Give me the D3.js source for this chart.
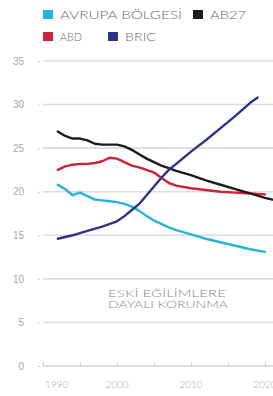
<!DOCTYPE html>
<html><head><meta charset="utf-8">
<script src="https://cdn.jsdelivr.net/npm/d3@7"></script>
<style>
body{margin:0;background:#fff;}
svg{display:block;font-family:Lato,"Open Sans",sans-serif;}
</style></head>
<body><div id="chart"></div>
<script>
const seriesNames = ["AVRUPA BÖLGESİ","AB27","ABD","BRIC"];
const seriesColors = ["#27b4d8","#1c1c1c","#cf2239","#2c3489"];
const yTicks = [0,5,10,15,20,25,30,35];
const xTicks = [1990,1995,2000,2005,2010,2015,2020,2025];
const xLabels = [1990,2000,2010,2020];
const annotation = ["ESKİ EĞİLİMLERE","DAYALI KORUNMA"];

const avrupaYears = [1992,1993,1994,1995,1996,1997,1998,1999,2000,2001,2002,2003,2004,2005,2006,2007,2008,2010,2012,2014,2016,2018,2020];
const avrupaValues = [20.8,20.3,19.6,19.9,19.5,19.1,19.0,18.9,18.8,18.6,18.3,17.8,17.2,16.7,16.3,15.9,15.6,15.1,14.6,14.2,13.8,13.4,13.1];
const ab27Years = [1992,1993,1994,1995,1996,1997,1998,1999,2000,2001,2002,2003,2004,2005,2006,2007,2008,2010,2012,2014,2016,2018,2020,2021];
const ab27Values = [26.9,26.4,26.1,26.1,25.9,25.5,25.4,25.4,25.4,25.2,24.8,24.3,23.8,23.4,23.0,22.7,22.4,21.9,21.3,20.8,20.3,19.8,19.3,19.1];
const abdYears = [1992,1993,1994,1995,1996,1997,1998,1999,2000,2001,2002,2003,2004,2005,2006,2007,2008,2010,2012,2014,2016,2018,2020];
const abdValues = [22.5,22.9,23.1,23.2,23.2,23.3,23.5,23.9,23.8,23.4,23.0,22.8,22.5,22.2,21.6,21.0,20.7,20.4,20.2,20.0,19.9,19.8,19.7];
const bricYears = [1992,1994,1996,1998,2000,2001,2002,2003,2004,2005,2006,2007,2008,2010,2012,2014,2016,2018,2019];
const bricValues = [14.6,15.0,15.5,16.0,16.6,17.2,17.9,18.6,19.6,20.6,21.6,22.5,23.2,24.6,25.9,27.3,28.7,30.2,30.8];

const W = 273, H = 396;
const svg = d3.select("#chart").append("svg").attr("width",W).attr("height",H);

const x = d3.scaleLinear().domain([1990,2020]).range([43,265]);
const y = d3.scaleLinear().domain([0,35]).range([366,61]);

// grid
svg.append("g").selectAll("line").data(yTicks).join("line")
  .attr("x1",43).attr("x2",W).attr("y1",d=>y(d)).attr("y2",d=>y(d))
  .attr("stroke",d=>d===0?"#d6d6d6":"#dcdcdc").attr("stroke-width",1.6);

// y axis labels
const yAxis = svg.append("g").attr("transform","translate(40,0)")
  .call(d3.axisLeft(y).tickValues(yTicks).tickSize(2).tickPadding(14).tickFormat(d3.format("d")));
yAxis.select(".domain").remove();
yAxis.selectAll(".tick line").attr("stroke","#d0d0d0");
yAxis.selectAll("text").attr("fill","#a8a8a8").attr("font-size",10).attr("font-weight",300);

// x axis
const xAxis = svg.append("g").attr("transform",`translate(0,${y(0)})`)
  .call(d3.axisBottom(x).tickValues(xTicks).tickSize(-4).tickFormat(""));
xAxis.select(".domain").remove();
xAxis.selectAll(".tick line").attr("stroke","#cfcfcf").attr("stroke-width",1);
svg.append("g").selectAll("text").data(xLabels).join("text")
  .attr("x",d=>d===1990?x(d)+2:x(d)).attr("y",388)
  .attr("text-anchor",d=>d===1990?"start":"middle")
  .attr("fill","#ababab").attr("font-size",10).attr("font-weight",300)
  .text(d=>d);

// annotation
svg.append("g").selectAll("text").data(annotation).join("text")
  .attr("x",108).attr("y",(d,i)=>297+i*10.5)
  .attr("fill","#8a8a8a").attr("font-size",10.5).attr("font-weight",300)
  .attr("textLength",(d,i)=>i===0?118:120).attr("lengthAdjust","spacingAndGlyphs")
  .text(d=>d);

// lines
const series = [
  {name:seriesNames[0],color:seriesColors[0],pts:avrupaYears.map((yr,i)=>[yr,avrupaValues[i]])},
  {name:seriesNames[2],color:seriesColors[2],pts:abdYears.map((yr,i)=>[yr,abdValues[i]])},
  {name:seriesNames[1],color:seriesColors[1],pts:ab27Years.map((yr,i)=>[yr,ab27Values[i]])},
  {name:seriesNames[3],color:seriesColors[3],pts:bricYears.map((yr,i)=>[yr,bricValues[i]])}
];
const line = d3.line().x(d=>x(d[0])).y(d=>y(d[1])).curve(d3.curveLinear);
svg.append("g").selectAll("path").data(series).join("path")
  .attr("d",d=>line(d.pts)).attr("fill","none")
  .attr("stroke",d=>d.color).attr("stroke-width",2.4)
  .attr("stroke-linejoin","round").attr("stroke-linecap","round");

// legend
const legend = [
  {i:0,x:43,y:10},{i:1,x:193,y:10},{i:2,x:43,y:32},{i:3,x:108,y:32}
];
const lg = svg.append("g").selectAll("g").data(legend).join("g")
  .attr("transform",d=>`translate(${d.x},${d.y})`);
lg.append("rect").attr("width",10).attr("height",9).attr("fill",d=>seriesColors[d.i]);
lg.append("text").attr("x",17).attr("y",9)
  .attr("fill","#6a6a6a").attr("font-size",11.5).attr("font-weight",300)
  .attr("textLength",d=>({0:122,1:36,2:22,3:31})[d.i]).attr("lengthAdjust","spacingAndGlyphs")
  .text(d=>seriesNames[d.i]);
</script></body></html>
